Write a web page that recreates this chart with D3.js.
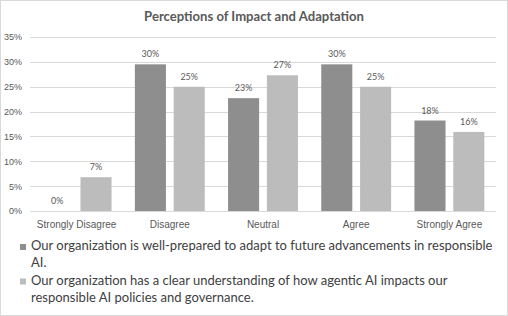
<!DOCTYPE html>
<html>
<head>
<meta charset="utf-8">
<script src="https://cdn.jsdelivr.net/npm/d3@7"></script>
<style>
  html, body { margin: 0; padding: 0; background: #fff; }
  svg { display: block; font-family: Lato, "Open Sans", sans-serif; }
</style>
</head>
<body>
<div id="chart"></div>
<script>
const categories = ['Strongly Disagree', 'Disagree', 'Neutral', 'Agree', 'Strongly Agree'];
const seriesNames = [
  'Our organization is well-prepared to adapt to future advancements in responsible AI.',
  'Our organization has a clear understanding of how agentic AI impacts our responsible AI policies and governance.'
];
const preparedValues = [0, 0.295, 0.227, 0.295, 0.182];
const understandingValues = [0.068, 0.25, 0.273, 0.25, 0.159];
const yTicks = [0, 0.05, 0.10, 0.15, 0.20, 0.25, 0.30, 0.35];
const colors = ['#8e8e8e', '#bcbcbc'];

const W = 508, H = 316;
const margin = { top: 37, left: 30, right: 12, bottom: 105 };
const width = W - margin.left - margin.right;
const height = H - margin.top - margin.bottom;

const svg = d3.select('#chart').append('svg')
  .attr('width', W)
  .attr('height', H);

// outer border
svg.append('rect')
  .attr('x', 0.5).attr('y', 0.5)
  .attr('width', W - 1).attr('height', H - 1)
  .attr('fill', '#fff')
  .attr('stroke', '#d9d9d9');

const title = svg.append('text')
  .attr('x', W / 2)
  .attr('y', 21)
  .attr('text-anchor', 'middle')
  .attr('font-size', 14)
  .attr('font-weight', 'bold')
  .attr('fill', '#595959')
  .text('Perceptions of Impact and Adaptation');
// scale title so it spans about the same width as the original (~220px)
const tw = title.node().getComputedTextLength();
title.attr('font-size', Math.min(16, Math.max(12, 14 * 220 / tw)));

const g = svg.append('g')
  .attr('transform', `translate(${margin.left}, ${margin.top})`);

const x0 = d3.scaleBand()
  .domain(categories)
  .range([0, width])
  .padding(0);

const x1 = d3.scaleBand()
  .domain([0, 1])
  .range([0, x0.bandwidth()])
  .paddingInner(0.2)
  .paddingOuter(0.3);

const y = d3.scaleLinear()
  .domain([0, 0.35])
  .range([height, 0]);

// gridlines
g.append('g')
  .attr('class', 'grid')
  .selectAll('line')
  .data(yTicks)
  .enter()
  .append('line')
  .attr('x1', 0)
  .attr('x2', width)
  .attr('y1', (d) => Math.round(y(d)) + 0.5)
  .attr('y2', (d) => Math.round(y(d)) + 0.5)
  .attr('stroke', '#d9d9d9');

const yAxis = d3.axisLeft(y)
  .tickValues(yTicks)
  .tickFormat(d3.format('.0%'))
  .tickSize(0)
  .tickPadding(8);
g.append('g')
  .attr('class', 'y-axis')
  .call(yAxis);

const xAxis = d3.axisBottom(x0).tickSize(0).tickPadding(10);
g.append('g')
  .attr('class', 'x-axis')
  .attr('transform', `translate(0, ${height})`)
  .call(xAxis);

d3.selectAll('.y-axis path, .x-axis path').remove();
d3.selectAll('.y-axis text').attr('fill', '#595959').attr('font-size', 9).attr('font-family', null);
d3.selectAll('.x-axis text').attr('fill', '#595959').attr('font-size', 10).attr('font-family', null);

const series = [preparedValues, understandingValues];
const data = categories.map((c, i) => ({
  category: c,
  values: series.map((s, k) => ({ k, value: s[i] }))
}));

const groups = g.selectAll('.cat')
  .data(data)
  .enter()
  .append('g')
  .attr('class', 'cat')
  .attr('transform', (d) => `translate(${x0(d.category)}, 0)`);

groups.selectAll('rect')
  .data((d) => d.values)
  .enter()
  .append('rect')
  .attr('x', (d) => x1(d.k))
  .attr('y', (d) => y(d.value))
  .attr('width', x1.bandwidth())
  .attr('height', (d) => height - y(d.value))
  .attr('fill', (d) => colors[d.k]);

groups.selectAll('.label')
  .data((d) => d.values)
  .enter()
  .append('text')
  .attr('class', 'label')
  .attr('x', (d) => x1(d.k) + x1.bandwidth() / 2)
  .attr('y', (d) => y(d.value) - 7)
  .attr('text-anchor', 'middle')
  .attr('font-size', 9)
  .attr('fill', '#595959')
  .text((d) => d3.format('.0%')(d.value));

// legend with wrapped text
const legend = svg.append('g').attr('class', 'legend');
const legendFont = 13;
const lineH = 17;
const maxW = 470;
let ly = 250;
seriesNames.forEach((name, k) => {
  legend.append('rect')
    .attr('x', 20)
    .attr('y', ly - 6)
    .attr('width', 6)
    .attr('height', 6)
    .attr('fill', colors[k]);
  const t = legend.append('text')
    .attr('x', 31)
    .attr('y', ly)
    .attr('font-size', legendFont)
    .attr('fill', '#404040');
  const words = name.split(' ');
  let line = [];
  let tspan = t.append('tspan').attr('x', 31).attr('y', ly);
  words.forEach((w) => {
    line.push(w);
    tspan.text(line.join(' '));
    if (tspan.node().getComputedTextLength() > maxW && line.length > 1) {
      line.pop();
      tspan.text(line.join(' '));
      line = [w];
      ly += lineH;
      tspan = t.append('tspan').attr('x', 31).attr('y', ly).text(w);
    }
  });
  ly += lineH + 0.5;
});
</script>
</body>
</html>
